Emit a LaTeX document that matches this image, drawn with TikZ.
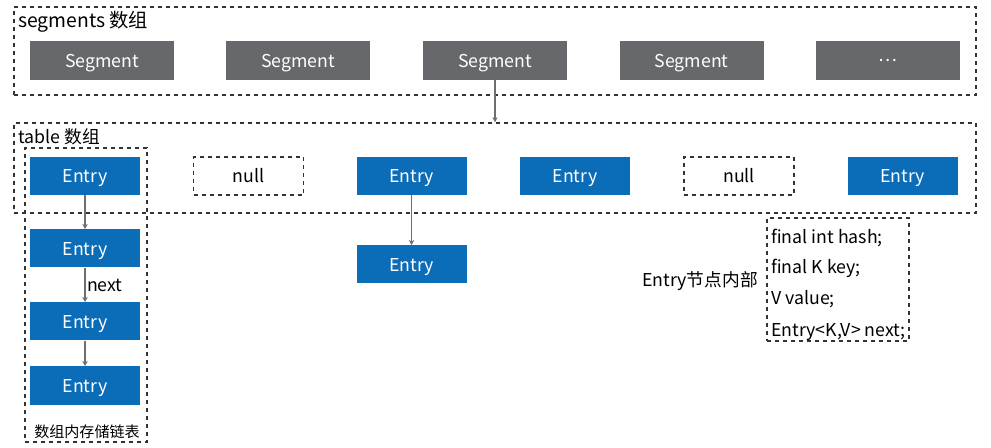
\documentclass[tikz,border=0pt]{standalone}
\usepackage{fontspec}
\setmainfont{Noto Sans CJK SC}
\usepackage{tikz}
\usetikzlibrary{arrows.meta}

\definecolor{seggray}{HTML}{66686B}
\definecolor{entryblue}{HTML}{0B6CB8}
\definecolor{linegray}{HTML}{6E6E6E}
\definecolor{dashgray}{HTML}{333333}

\tikzset{
  segbox/.style={fill=seggray, text=white, minimum width=108pt, minimum height=29.25pt, inner sep=0pt, text height=1.0em, text depth=0pt},
  entrybox/.style={fill=entryblue, text=white, minimum width=82.5pt, minimum height=28.5pt, inner sep=0pt, text height=1.0em, text depth=0pt},
  nullbox/.style={draw=dashgray, dashed, line width=0.9pt, minimum width=82.5pt, minimum height=28.5pt, inner sep=0pt},
  groupbox/.style={draw=dashgray, dashed, line width=0.9pt, inner sep=0pt},
  link/.style={draw=linegray, line width=1.1pt, -{Stealth[length=4pt,width=4pt]}},
}

\begin{document}
\begin{tikzpicture}[x=0.75pt, y=-0.75pt, font=\fontsize{13.3}{16}\selectfont]
  \useasboundingbox (0,0) rectangle (991,448);

  % Groups
  \node[groupbox, minimum width=721.5pt, minimum height=66pt] (segs) at (495,51) {};
  \node[groupbox, minimum width=721.5pt, minimum height=67.5pt] (table) at (495,168) {};
  \node[groupbox, minimum width=91.5pt, minimum height=220.5pt] (chain) at (86,295) {};
  \node[groupbox, minimum width=106.5pt, minimum height=92.25pt] (fields) at (838,279.5) {};

  % Labels
  \node[anchor=west, inner sep=0pt, font=\fontsize{14.5}{17}\selectfont] (segslabel) at (18,21.5) {segments 数组};
  \node[anchor=west, inner sep=0pt] (tablelabel) at (18,136.5) {table 数组};
  \node[font=\fontsize{11.3}{13}\selectfont] (chainlabel) at (87,432) {数组内存储链表};
  \node (fieldslabel) at (700,281) {Entry节点内部};

  % Segments
  \node[segbox] (s1) at (102,60.5) {Segment};
  \node[segbox] (s2) at (298,60.5) {Segment};
  \node[segbox] (s3) at (495,60.5) {Segment};
  \node[segbox] (s4) at (691.5,60.5) {Segment};
  \node[segbox] (s5) at (888,60.5) {\raisebox{0.3em}{…}};

  % Table
  \node[entrybox] (t1) at (85,176) {Entry};
  \node[nullbox] (t2) at (248.5,176) {null};
  \node[entrybox] (t3) at (411.5,176) {Entry};
  \node[entrybox] (t4) at (575,176) {Entry};
  \node[nullbox] (t5) at (739,176) {null};
  \node[entrybox] (t6) at (902.5,176) {Entry};

  % Chains
  \node[entrybox] (c1) at (85,248.5) {Entry};
  \node[entrybox] (c2) at (85,321.5) {Entry};
  \node[entrybox] (c3) at (85,385.5) {Entry};
  \node[entrybox] (d1) at (411.5,264.5) {Entry};

  % Fields
  \node[anchor=west, inner sep=0pt] (f1) at (771,238) {final int hash;};
  \node[anchor=west, inner sep=0pt] (f2) at (771,268) {final K key;};
  \node[anchor=west, inner sep=0pt] (f3) at (771,299) {V value;};
  \node[anchor=west, inner sep=0pt] (f4) at (771,332) {Entry<K,V> next;};

  % Edges
  \draw[link] (s3) -- (s3 |- table.north);
  \draw[link] (t1) -- (c1);
  \draw[link] (c1) -- node[right, inner sep=1pt] (nextlabel) {next} (c2);
  \draw[link] (c2) -- (c3);
  \draw[link] (t3) -- (d1);
\end{tikzpicture}
\end{document}
